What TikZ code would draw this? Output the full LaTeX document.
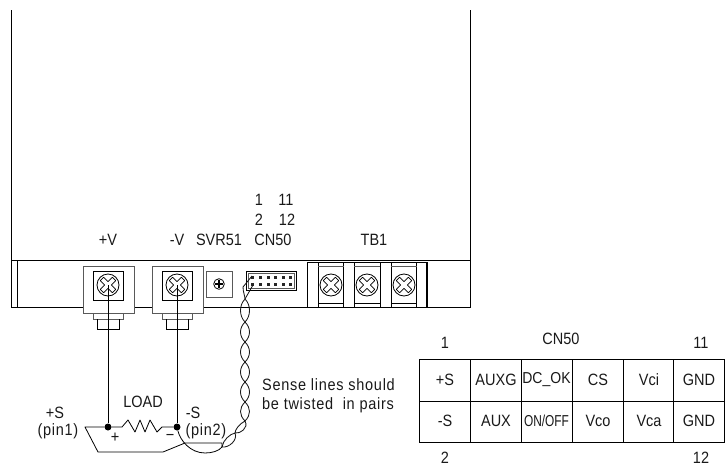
\documentclass[tikz,border=0pt]{standalone}
\usepackage{fontspec}
\setmainfont{Liberation Sans}
\newfontfamily\widefont{Liberation Sans}[LetterSpace=5]
\tikzset{
  ln/.style={draw=black,line width=0.8pt},
  gr/.style={draw=black!65,line width=1pt},
  wire/.style={draw=black,line width=1pt},
  twist/.style={draw=black!90,line width=0.85pt},
  lbl/.style={inner sep=0pt,font=\fontsize{14.5}{14.5}\selectfont,text=black!90,anchor=center,yscale=1.13},
  tight/.style={lbl,font=\fontsize{14}{14}\selectfont},
  wide/.style={lbl,font=\fontsize{14.5}{14.5}\selectfont\widefont},
  dot/.style={circle,fill=black,inner sep=0pt,minimum size=7pt},
}
\newcommand{\screw}[2]{%
  \draw[ln] (#1,#2) circle (11);
  \begin{scope}[shift={(#1,#2)},rotate=45]
    \draw[ln,line width=0.7pt,line join=round] (-2.4,-2.4)--(-2.4,-8.5)--(2.4,-8.5)--(2.4,-2.4)--(8.5,-2.4)--(8.5,2.4)--(2.4,2.4)--(2.4,8.5)--(-2.4,8.5)--(-2.4,2.4)--(-8.5,2.4)--(-8.5,-2.4)--cycle;
  \end{scope}}
\newcommand{\terminal}[1]{%
  \draw[gr,fill=white] (#1-25,266) rectangle (#1+26,313);
  \draw[ln] (#1-15,271) rectangle (#1+15,300);
  \screw{#1}{285}
  \draw[gr] (#1-15,313) rectangle (#1+15,319);
  \draw[ln] (#1-11,319) -- (#1-11,329) -- (#1+11,329) -- (#1+11,319);}
\newcommand{\tbcell}[1]{%
  \draw[gr] (#1-13,266) -- (#1+13,266);
  \draw[ln] (#1-13,303) -- (#1+13,303);
  \screw{#1}{285}}
\begin{document}
\begin{tikzpicture}[x=1pt,y=-1pt]
\useasboundingbox (0,0) rectangle (725,466);
% chassis
\draw[ln] (11,10) -- (11,307) -- (470,307) -- (470,10);
\draw[ln] (11,260) -- (470,260);
\draw[ln] (17,260) -- (17,307);
% terminals
\terminal{108}
\terminal{177}
% SVR51
\draw[gr,fill=white] (206,271) rectangle (232,297);
\draw[ln] (219,284) circle (5.3);
\draw[ln,line width=1.1pt] (219,280) -- (219,288) (215,284) -- (223,284);
% CN50 connector
\draw[ln,fill=white] (246,271) rectangle (296,290);
\draw[gr,line width=0.7pt] (248,273) rectangle (294,288);
\foreach \x in {252,260,268,275,283,290} \foreach \y in {277,284}
  \fill[black!85] (\x-1.5,\y-1.5) rectangle (\x+1.5,\y+1.5);
% TB1
\draw[ln] (307,262) rectangle (427,307);
\foreach \x in {318,343,354,380,391,416} \draw[ln] (\x,262) -- (\x,307);
\draw[ln,line width=1.4pt] (427,262) -- (427,307);
\tbcell{331}\tbcell{367}\tbcell{404}
% twisted pair
\coordinate (p1) at (252,276);
\coordinate (p2) at (253,285);
\draw[twist] (p1) -- (243,287) .. controls (243,292) and (245,296) .. (245,299);
\draw[twist] (p2) -- (245,299);
\foreach \a/\b in {299/322,322/342,342/362,362/382,382/402,402/421}
  \draw[twist] (245,\a) .. controls (239,\a+6) and (239,\b-6) .. (245,\b) .. controls (251,\b-6) and (251,\a+6) .. (245,\a);
\draw[twist] (245,421) .. controls (239,424) and (235,430) .. (235,433) .. controls (240,434) and (249,428) .. (245,421);
\draw[twist] (235,433) .. controls (230,434) and (223,440) .. (222,447) .. controls (229,448) and (238,440) .. (235,433);
% load
\node[dot] (d1) at (108,427) {};
\node[dot] (d2) at (177,427) {};
\draw[wire] (108,285) -- (d1);
\draw[wire] (177,285) -- (d2);
\draw[ln,line join=round] (d1) -- (85,427) -- (98,452) -- (163,452) -- (185,443) -- (222,443) -- (222,447);
\draw[ln,line join=round] (d1) -- (122,427) -- (128,420) -- (135,432) -- (140,420) -- (145,432) -- (150,420) -- (157,432) -- (162,427) -- (d2);
\draw[ln] (d2) .. controls (180,440) and (190,453) .. (205,453) .. controls (212,453) and (219,451) .. (222,447);
% labels
\node[lbl] (tV1) at (108,240) {+V};
\node[lbl] (tV2) at (177,240) {-V};
\node[lbl] (tS) at (219,240) {SVR51};
\node[lbl] (tC) at (273,240) {CN50};
\node[lbl] (tT) at (374,240) {TB1};
\node[lbl] (t1) at (259,200) {1};
\node[lbl] (t11) at (286,200) {11};
\node[lbl] (t2) at (259,220) {2};
\node[lbl] (t12) at (287,220) {12};
\node[lbl] (tL) at (143,402) {LOAD};
\node[lbl] (tp) at (115,438) {+};
\node[lbl] (tm) at (170,437) {−};
\node[lbl] (tSa) at (55,413) {+S};
\node[wide] (tSb) at (58,431) {(pin1)};
\node[lbl] (tSc) at (193,413) {-S};
\node[wide] (tSd) at (206,431) {(pin2)};
\node[wide,anchor=west] (s1) at (262,385) {Sense lines should};
\node[wide,anchor=west] (s2) at (262,405) {be twisted\ \ in pairs};
% table
\draw[ln] (419,359) rectangle (724,442);
\draw[ln] (419,401) -- (724,401);
\foreach \x in {470,521,572,623,673} \draw[ln] (\x,359) -- (\x,442);
\node[lbl] (n1) at (445,343) {1};
\node[lbl] (n2) at (561,339) {CN50};
\node[lbl] (n3) at (701,343) {11};
\node[lbl] (n4) at (445,457.5) {2};
\node[lbl] (n5) at (701,457.5) {12};
\node[lbl] (c11) at (445,380) {+S};
\node[lbl] (c12) at (496,380) {AUXG};
\node[tight] (c13) at (546.5,380) {DC\_OK};
\node[lbl] (c14) at (598,380) {CS};
\node[lbl] (c15) at (649,380) {Vci};
\node[lbl] (c16) at (699,380) {GND};
\node[lbl] (c21) at (445,421) {-S};
\node[lbl] (c22) at (496,421) {AUX};
\node[tight,xscale=0.85] (c23) at (546.5,421) {ON/OFF};
\node[lbl] (c24) at (598,421) {Vco};
\node[lbl] (c25) at (649,421) {Vca};
\node[lbl] (c26) at (699,421) {GND};
\end{tikzpicture}
\end{document}
